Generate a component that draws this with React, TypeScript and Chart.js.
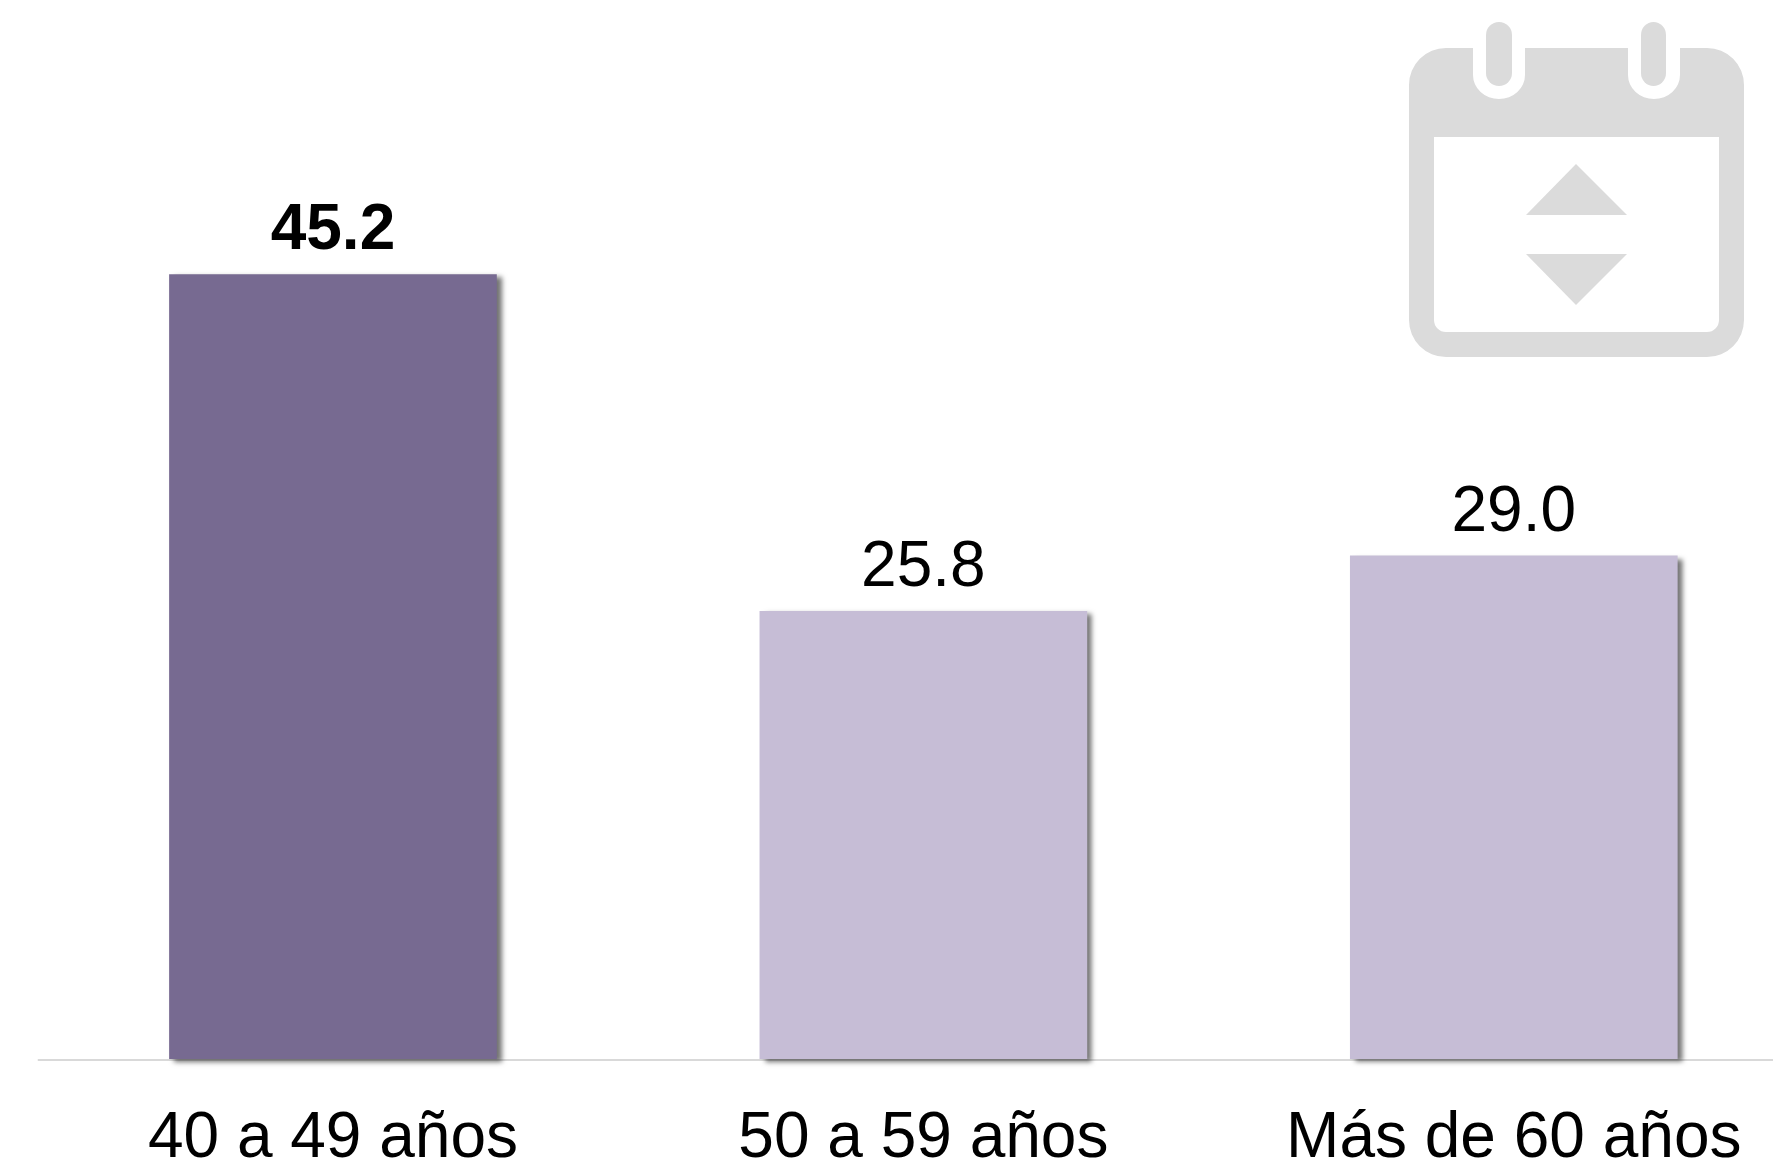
import React, { useEffect, useRef } from "react";
import { Chart, registerables } from "chart.js";

Chart.register(...registerables);

const categories = ["40 a 49 años", "50 a 59 años", "Más de 60 años"];
const values = [45.2, 25.8, 29.0];
const barColors = ["#776A91", "#C6BDD6"];
const valueWeights = ["bold", "normal", "normal"];

const FONT = '"Liberation Sans", Arial, sans-serif';
const ICON = "#DBDBDB";

const calendarBody =
  "M1446 48H1473V75A26 24 0 0 0 1525 75V48H1628V75A26 24 0 0 0 1680 75V48H1707A37 37 0 0 1 1744 85V320A37 37 0 0 1 1707 357H1446A37 37 0 0 1 1409 320V85A37 37 0 0 1 1446 48Z" +
  "M1434 137V320A12 12 0 0 0 1446 332H1707A12 12 0 0 0 1719 320V137Z";
const calendarParts = [
  "M1486 35A13 13 0 0 1 1512 35V73A13 13 0 0 1 1486 73Z",
  "M1641 35A12.5 13 0 0 1 1666 35V73A12.5 13 0 0 1 1641 73Z",
  "M1576 164L1627 215H1526Z",
  "M1526 254H1627L1576 305Z",
];

const decor = {
  id: "decor",
  beforeDatasetsDraw(chart: any) {
    const { ctx, chartArea } = chart;
    ctx.save();
    ctx.fillStyle = ICON;
    ctx.fill(new Path2D(calendarBody), "evenodd");
    calendarParts.forEach((p) => ctx.fill(new Path2D(p)));
    ctx.strokeStyle = "#D9D9D9";
    ctx.lineWidth = 2;
    ctx.beginPath();
    ctx.moveTo(chartArea.left, chartArea.bottom + 1);
    ctx.lineTo(chart.width, chartArea.bottom + 1);
    ctx.stroke();
    ctx.restore();
  },
  beforeDatasetDraw(chart: any) {
    const { ctx } = chart;
    ctx.save();
    ctx.shadowColor = "rgba(0,0,0,0.55)";
    ctx.shadowBlur = 5;
    ctx.shadowOffsetX = 5;
    ctx.shadowOffsetY = 3;
  },
  afterDatasetDraw(chart: any) {
    chart.ctx.restore();
  },
  afterDatasetsDraw(chart: any) {
    const { ctx } = chart;
    const meta = chart.getDatasetMeta(0);
    ctx.save();
    ctx.fillStyle = "#000000";
    ctx.textAlign = "center";
    ctx.textBaseline = "alphabetic";
    meta.data.forEach((bar: any, i: number) => {
      ctx.font = `${valueWeights[i]} 64px ${FONT}`;
      ctx.fillText(values[i].toFixed(1), bar.x, bar.y - 25);
    });
    ctx.restore();
  },
};

export default function App() {
  const ref = useRef<HTMLCanvasElement>(null);
  useEffect(() => {
    const chart = new Chart(ref.current as HTMLCanvasElement, {
      type: "bar",
      data: {
        labels: categories,
        datasets: [
          {
            data: values,
            backgroundColor: values.map((_, i) => (i === 0 ? barColors[0] : barColors[1])),
            barPercentage: 0.555,
            categoryPercentage: 1,
            clip: false,
          },
        ],
      },
      plugins: [decor],
      options: {
        responsive: false,
        animation: false,
        layout: { padding: { left: 37.75, right: 51, top: 0, bottom: 0 } },
        plugins: { legend: { display: false }, tooltip: { enabled: false } },
        scales: {
          x: {
            grid: { display: false },
            border: { display: false },
            afterFit(s: any) {
              s.height = 103;
            },
            ticks: {
              color: "#000000",
              font: { family: FONT, size: 64 },
              padding: 34,
              maxRotation: 0,
              autoSkip: false,
            },
          },
          y: { display: false, min: 0, max: 61 },
        },
      } as any,
    });
    return () => chart.destroy();
  }, []);
  return (
    <div style={{ position: "fixed", left: 0, top: 0, width: 1773, height: 1162, overflow: "hidden", background: "#fff" }}>
      <canvas ref={ref} width={1860} height={1162} style={{ display: "block" }} />
    </div>
  );
}
